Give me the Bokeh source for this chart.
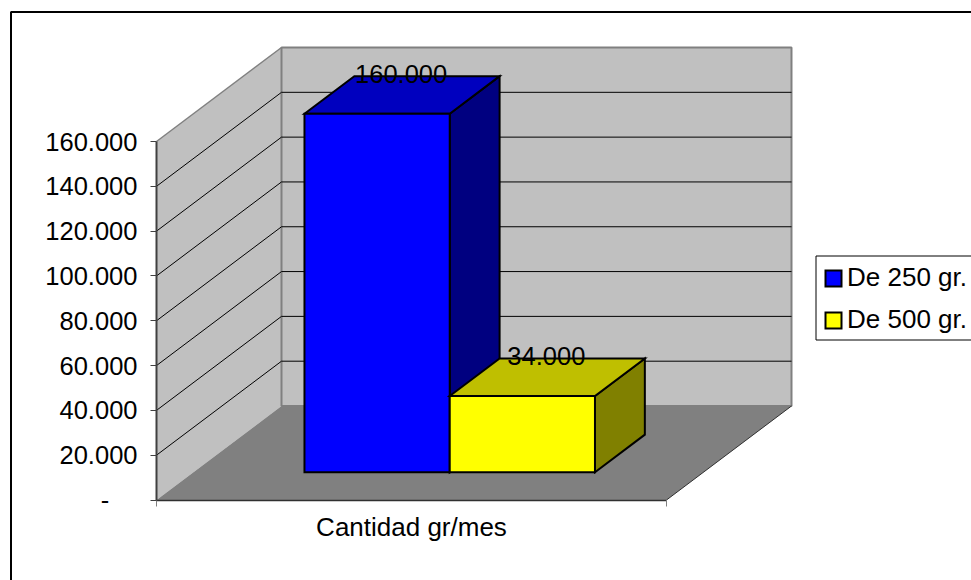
from bokeh.plotting import figure
from bokeh.embed import file_html
from bokeh.resources import INLINE
from bokeh.models import Range1d, FixedTicker, LinearAxis, Legend, LegendItem, BoxAnnotation
from bokeh.core.properties import value

# ---- data ----
CATEGORY = "Cantidad gr/mes"
SERIES_NAMES = ["De 250 gr.", "De 500 gr."]
SERIES_VALUES = [160000, 34000]
SERIES_LABELS = ["160.000", "34.000"]
Y_TICKS = [0, 20000, 40000, 60000, 80000, 100000, 120000, 140000, 160000]
Y_TICK_LABELS = ["-\u00a0\u00a0\u00a0\u00a0", "20.000", "40.000", "60.000", "80.000",
                 "100.000", "120.000", "140.000", "160.000"]

# ---- styles ----
FRONT = ["#0000ff", "#ffff00"]
TOP = ["#0000bf", "#bfbf00"]
SIDE = ["#000080", "#808000"]
FONT = "Liberation Sans"
FS = "26px"
FS_TICK = "25.5px"

# ---- layout (page pixels -> data scales) ----
W, H = 971, 580
AX_LEFT, AX_RIGHT = 156.0, 666.0
AX_ZERO, AX_TOP = 499.5, 141.0
DEPTH_X = 125.0 / (AX_RIGHT - AX_LEFT)   # wall depth in category units
PX_PER_VAL = (AX_ZERO - AX_TOP) / 160000.0
DEPTH_Y = 94.0 / PX_PER_VAL              # wall depth in value units
U_PER_PX = 1.0 / (AX_RIGHT - AX_LEFT)

x_range = Range1d(-AX_LEFT * U_PER_PX, (W - AX_LEFT) * U_PER_PX)
y_range = Range1d((AX_ZERO - H) / PX_PER_VAL, AX_ZERO / PX_PER_VAL)

BAR_U0 = 0.2176
BAR_W = 0.2848
BAR_D0, BAR_D1 = 0.296, 0.695


def proj(u, v, d):
    return u + d * DEPTH_X, v + d * DEPTH_Y


def poly(points):
    pts = [proj(*q) for q in points]
    return [a for a, _ in pts], [b for _, b in pts]


p = figure(width=W, height=H, x_range=x_range, y_range=y_range, output_backend="svg",
           toolbar_location=None, min_border=0, min_border_left=0, min_border_right=0,
           min_border_top=0, min_border_bottom=0, x_axis_location=None, y_axis_location=None)
p.grid.visible = False
p.outline_line_color = None
p.background_fill_color = "white"

vmax = Y_TICKS[-1]
# walls and floor
xs, ys = poly([(0, 0, 0), (0, vmax, 0), (0, vmax, 1), (0, 0, 1)])
p.patch(xs, ys, fill_color="#c0c0c0", line_color=None)
xs, ys = poly([(0, 0, 1), (0, vmax, 1), (1, vmax, 1), (1, 0, 1)])
p.patch(xs, ys, fill_color="#c0c0c0", line_color="#808080", line_width=2)
xs, ys = poly([(0, vmax, 0), (0, vmax, 1)])
p.line(xs, ys, line_color="#808080", line_width=1.5)
xs, ys = poly([(0, 0, 0), (1, 0, 0), (1, 0, 1), (0, 0, 1)])
p.patch(xs, ys, fill_color="#808080", line_color=None)
xs, ys = poly([(1, 0, 0), (1, 0, 1)])
p.line(xs, ys, line_color="#303030", line_width=1)

# gridlines
gx, gy = [], []
for t in Y_TICKS[1:-1]:
    a, b = poly([(0, t, 0), (0, t, 1), (1, t, 1)])
    gx.append(a)
    gy.append(b)
p.multi_line(gx, gy, line_color="black", line_width=1)

# bars
legend_items = []
for i, val in enumerate(SERIES_VALUES):
    u0, u1 = BAR_U0 + i * BAR_W, BAR_U0 + (i + 1) * BAR_W
    edge = dict(line_color="black", line_width=2, line_join="miter")
    xs, ys = poly([(u1, 0, BAR_D0), (u1, 0, BAR_D1), (u1, val, BAR_D1), (u1, val, BAR_D0)])
    p.patch(xs, ys, fill_color=SIDE[i], **edge)
    xs, ys = poly([(u0, val, BAR_D0), (u0, val, BAR_D1), (u1, val, BAR_D1), (u1, val, BAR_D0)])
    p.patch(xs, ys, fill_color=TOP[i], **edge)
    fx, fy = proj(u0, 0, BAR_D0)
    gx1, _ = proj(u1, 0, BAR_D0)
    r = p.quad(left=[fx], right=[gx1], bottom=[fy], top=[fy + val], fill_color=FRONT[i], **edge)
    legend_items.append(LegendItem(label=SERIES_NAMES[i], renderers=[r]))

# data labels
LABEL_DU = -64.0 * U_PER_PX
LABEL_DV = -26.5 / PX_PER_VAL
lx, ly = [], []
for i, val in enumerate(SERIES_VALUES):
    a, b = proj(BAR_U0 + (i + 0.5) * BAR_W, val, 1.0)
    lx.append(a + LABEL_DU)
    ly.append(b + LABEL_DV)
p.text(lx, ly, text=SERIES_LABELS, text_font=value(FONT), text_font_size=value(FS_TICK), text_color="black",
       text_align="center", text_baseline="alphabetic")

# value axis
yax = LinearAxis(fixed_location=0, ticker=FixedTicker(ticks=Y_TICKS), bounds=(0, vmax),
                 major_label_overrides=dict(zip(Y_TICKS, Y_TICK_LABELS)))
yax.axis_line_color = "#404040"
yax.axis_line_width = 2
yax.major_tick_line_color = "#404040"
yax.major_tick_in = 0
yax.major_tick_out = 6
yax.minor_tick_line_color = None
yax.major_label_standoff = 13
yax.major_label_text_font = FONT
yax.major_label_text_font_size = FS_TICK
yax.major_label_text_color = "black"
p.add_layout(yax, "left")

# category axis: edge ticks
xax = LinearAxis(fixed_location=0, ticker=FixedTicker(ticks=[0, 1]), bounds=(0, 1),
                 major_label_overrides={0: "", 1: ""})
xax.axis_line_color = "#303030"
xax.axis_line_width = 1.5
xax.major_tick_line_color = "#808080"
xax.major_tick_in = 0
xax.major_tick_out = 6
xax.minor_tick_line_color = None
p.add_layout(xax, "below")
# category axis: label in the middle
cax = LinearAxis(fixed_location=0, ticker=FixedTicker(ticks=[0.5]),
                 major_label_overrides={0.5: CATEGORY})
cax.axis_line_color = None
cax.major_tick_line_color = None
cax.minor_tick_line_color = None
cax.major_label_standoff = 6
cax.major_label_text_font = FONT
cax.major_label_text_font_size = FS
cax.major_label_text_color = "black"
p.add_layout(cax, "below")

# legend frame (open on the right: the page cuts it)
p.add_layout(BoxAnnotation(left=815.5, right=1000, top=H - 255.5, bottom=H - 339.5,
                           left_units="screen", right_units="screen", top_units="screen",
                           bottom_units="screen", fill_color="white", fill_alpha=1,
                           line_color="black", line_width=1, line_alpha=1))
# legend
legend = Legend(items=legend_items, location=(823, H - 335), padding=0, margin=0,
                spacing=11, glyph_width=20, glyph_height=20, label_height=26, label_standoff=4,
                label_text_font=FONT, label_text_font_size=FS, label_text_color="black",
                border_line_color=None, background_fill_alpha=0)
p.add_layout(legend, "center")

# outer chart border
p.add_layout(BoxAnnotation(left=10.5, right=1000, top=H - 11.5, bottom=-100,
                           left_units="screen", right_units="screen", top_units="screen",
                           bottom_units="screen", fill_alpha=0, line_color="black", line_width=2,
                           line_alpha=1))

open("out.html", "w").write(file_html(p, INLINE))
